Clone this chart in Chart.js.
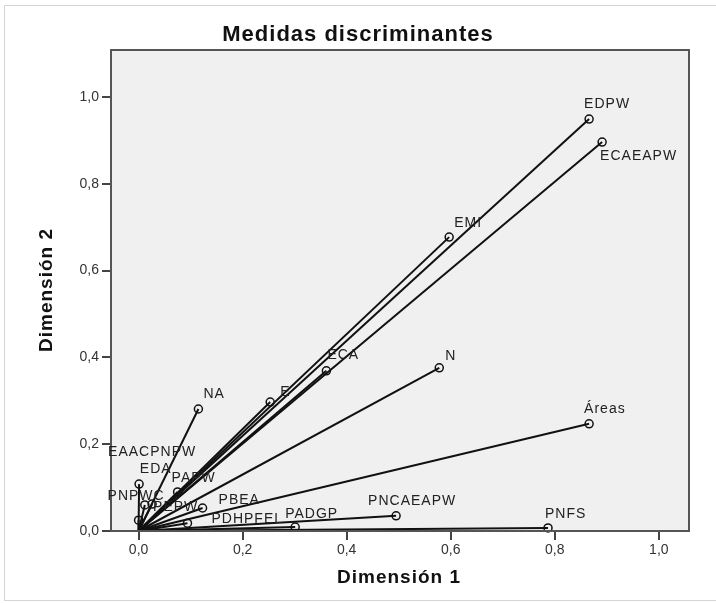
<!DOCTYPE html>
<html lang="es">
<head>
    <meta charset="UTF-8">
    <title>Medidas discriminantes</title>
    <script src="https://cdn.jsdelivr.net/npm/chart.js"></script>
    <style>
        body { margin: 0; background: #fff; }
        canvas { display: block; }
    </style>
</head>
<body>
    <canvas id="discChart" width="716" height="603"></canvas>
    <script>
        // variables and their discrimination measures
        const varNames = ['EDPW', 'ECAEAPW', 'EMI', 'ECA', 'N', 'E', 'NA', 'Áreas', 'PNCAEAPW', 'PNFS',
                          'PADGP', 'PDHPFEL', 'PBEA', 'PAPW', 'PEPW', 'PNPWC', 'EDA', 'EAACPNPW'];
        const dim1 = [0.866, 0.891, 0.597, 0.361, 0.578, 0.253, 0.115, 0.866, 0.495, 0.787,
                      0.301, 0.094, 0.123, 0.075, 0.026, 0.000, 0.012, 0.001];
        const dim2 = [0.949, 0.896, 0.677, 0.369, 0.376, 0.297, 0.281, 0.247, 0.035, 0.007,
                      0.009, 0.018, 0.053, 0.090, 0.062, 0.025, 0.060, 0.108];
        const xTicks = [0, 0.2, 0.4, 0.6, 0.8, 1.0];
        const yTicks = [0, 0.2, 0.4, 0.6, 0.8, 1.0];

        // where each label sits relative to its point (px)
        const labelOffsets = [[-5, -15], [-2, 14], [5, -14], [1, -16], [6, -12], [10, -10], [5, -15], [-5, -15],
                              [-28, -15], [-3, -14], [-10, -13], [24, -4], [16, -8], [-6, -14], [1, 3],
                              [-31, -24], [-5, -36], [-31, -32]];

        const fmt = v => v.toFixed(1).replace('.', ',');

        const datasets = varNames.map((name, i) => ({
            label: name,
            data: [{ x: 0, y: 0 }, { x: dim1[i], y: dim2[i] }],
            showLine: true,
            borderColor: '#111',
            borderWidth: 2,
            pointRadius: [0, 4],
            pointBorderWidth: 1.5,
            pointBorderColor: '#111',
            pointBackgroundColor: 'rgba(0,0,0,0)',
            clip: false
        }));

        const decor = {
            id: 'decor',
            beforeDraw(chart) {
                const { ctx, chartArea: a } = chart;
                ctx.save();
                ctx.fillStyle = '#fff';
                ctx.fillRect(0, 0, chart.width, chart.height);
                // outer light frame
                ctx.strokeStyle = '#d4d4d4';
                ctx.lineWidth = 1;
                ctx.beginPath();
                ctx.moveTo(chart.width, 5.5);
                ctx.lineTo(4.5, 5.5);
                ctx.lineTo(4.5, 600.5);
                ctx.lineTo(chart.width, 600.5);
                ctx.stroke();
                ctx.fillStyle = '#f0f0f0';
                ctx.fillRect(a.left, a.top, a.right - a.left, a.bottom - a.top);
                ctx.restore();
            },
            afterDatasetsDraw(chart) {
                const { ctx, chartArea: a } = chart;
                ctx.save();
                ctx.strokeStyle = '#555';
                ctx.lineWidth = 2;
                ctx.strokeRect(a.left, a.top, a.right - a.left, a.bottom - a.top);

                // point labels
                ctx.fillStyle = '#222';
                ctx.font = '14px "Liberation Sans", Arial, sans-serif';
                ctx.letterSpacing = '1px';
                ctx.textAlign = 'left';
                ctx.textBaseline = 'middle';
                varNames.forEach((name, i) => {
                    const pt = chart.getDatasetMeta(i).data[1];
                    ctx.fillText(name, pt.x + labelOffsets[i][0], pt.y + labelOffsets[i][1]);
                });

                // titles
                ctx.fillStyle = '#111';
                ctx.textAlign = 'center';
                ctx.font = 'bold 22px "Liberation Sans", Arial, sans-serif';
                ctx.fillText('Medidas discriminantes', 358, 35);
                ctx.font = 'bold 19px "Liberation Sans", Arial, sans-serif';
                ctx.fillText('Dimensión 1', 399, 578);
                ctx.translate(47, 290);
                ctx.rotate(-Math.PI / 2);
                ctx.fillText('Dimensión 2', 0, 0);
                ctx.restore();
            }
        };

        const axisCommon = {
            type: 'linear',
            grid: { drawOnChartArea: false, drawTicks: true, tickLength: 9, color: '#444', lineWidth: 2 },
            border: { display: false },
            ticks: {
                color: '#333',
                font: { family: '"Liberation Sans", Arial, sans-serif', size: 14 },
                callback: v => fmt(v)
            }
        };

        new Chart(document.getElementById('discChart'), {
            type: 'scatter',
            data: { datasets: datasets },
            options: {
                responsive: false,
                animation: false,
                events: [],
                layout: { padding: { top: 50, right: 27, left: 0, bottom: 0 } },
                plugins: { legend: { display: false }, tooltip: { enabled: false } },
                scales: {
                    x: {
                        ...axisCommon,
                        min: -0.053, max: 1.058,
                        ticks: { ...axisCommon.ticks, padding: 2, maxRotation: 0 },
                        afterBuildTicks: s => { s.ticks = xTicks.map(v => ({ value: v })); },
                        afterFit: s => { s.height = 72; }
                    },
                    y: {
                        ...axisCommon,
                        min: 0, max: 1.108,
                        ticks: { ...axisCommon.ticks, padding: 3 },
                        afterBuildTicks: s => { s.ticks = yTicks.map(v => ({ value: v })); },
                        afterFit: s => { s.width = 111; }
                    }
                }
            },
            plugins: [decor]
        });
    </script>
</body>
</html>
